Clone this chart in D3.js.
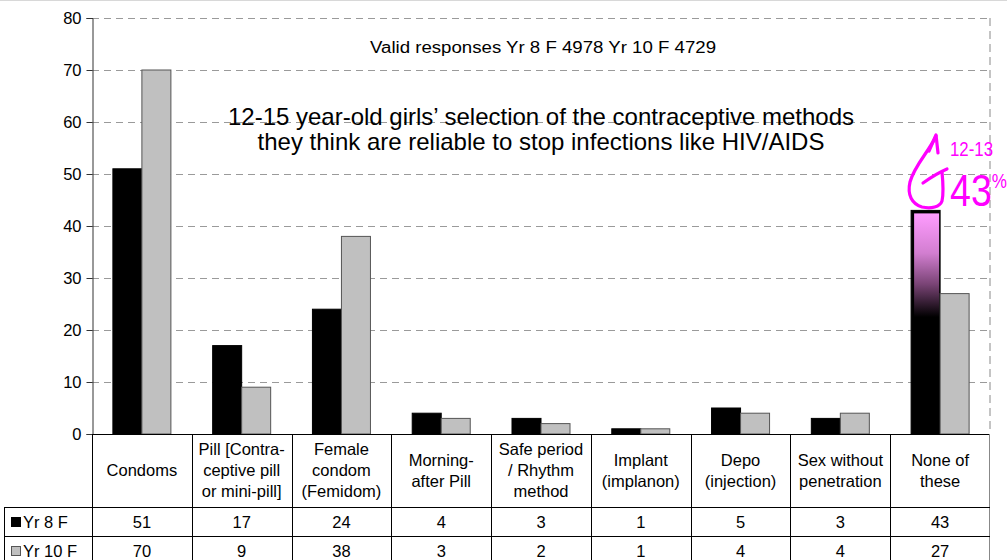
<!DOCTYPE html>
<html>
<head>
<meta charset="utf-8">
<script src="https://cdn.jsdelivr.net/npm/d3@7"></script>
<style>
  html, body { margin: 0; padding: 0; background: #fff; }
  svg { display: block; font-family: "Liberation Sans", Arial, sans-serif; }
</style>
</head>
<body>
<svg id="chart" width="1007" height="560"></svg>
<script>
// Method categories (each entry is the lines of its table header cell)
const categories = [
  ["Condoms"],
  ["Pill [Contra-", "ceptive pill", "or mini-pill]"],
  ["Female", "condom", "(Femidom)"],
  ["Morning-", "after Pill"],
  ["Safe period", "/ Rhythm", "method"],
  ["Implant", "(implanon)"],
  ["Depo", "(injection)"],
  ["Sex without", "penetration"],
  ["None of", "these"]
];
const seriesNames = ["Yr 8 F", "Yr 10 F"];
const yr8F  = [51, 17, 24, 4, 3, 1, 5, 3, 43];
const yr10F = [70, 9, 38, 3, 2, 1, 4, 4, 27];
const yTicks = [0, 10, 20, 30, 40, 50, 60, 70, 80];

const subtitle = "Valid responses  Yr 8 F 4978  Yr 10 F 4729";
const titleLines = [
  "12-15 year-old girls\u2019 selection of the contraceptive methods",
  "they think are reliable to stop infections like HIV/AIDS"
];

(function draw() {
  const svg = d3.select("#chart");
  const plotL = 92, plotR = 990, plotT = 18, plotB = 434;
  const tableLeft = 4;
  const headerBottom = 507, row1Bottom = 536, row2Bottom = 565;

  const catIdx = d3.range(categories.length);
  const x0 = d3.scaleBand().domain(catIdx).range([plotL, plotR]).padding(0);
  const x1 = d3.scaleBand().domain(seriesNames).range([0, x0.bandwidth()])
    .paddingInner(0).paddingOuter(0.72);
  const y = d3.scaleLinear().domain([0, 80]).range([plotB, plotT]);

  const colors = { "Yr 8 F": "#000000", "Yr 10 F": "#c0c0c0" };
  const seriesData = { "Yr 8 F": yr8F, "Yr 10 F": yr10F };

  // frame line along the top edge
  svg.append("line").attr("x1", 0).attr("x2", 1007).attr("y1", 0.5).attr("y2", 0.5)
    .attr("stroke", "#d8d8d8");

  // dashed gridlines
  svg.append("g").selectAll("line").data(yTicks.filter(t => t > 0)).join("line")
    .attr("x1", plotL).attr("x2", plotR)
    .attr("y1", d => Math.round(y(d)) + 0.5).attr("y2", d => Math.round(y(d)) + 0.5)
    .attr("stroke", "#9a9a9a").attr("stroke-dasharray", "7,5");

  // dashed right edge of the plot area
  svg.append("line").attr("x1", plotR).attr("x2", plotR).attr("y1", plotT).attr("y2", plotB)
    .attr("stroke", "#c4c4c4").attr("stroke-width", 2).attr("stroke-dasharray", "8,5");

  // y axis
  const yAxis = d3.axisLeft(y).tickValues(yTicks).tickSize(6).tickPadding(5);
  const gy = svg.append("g").attr("transform", `translate(${plotL + 0.5},0)`).call(yAxis);
  gy.select(".domain").attr("stroke", "#333");
  gy.selectAll(".tick line").attr("stroke", "#333");
  gy.selectAll(".tick text").attr("font-size", 16.5).attr("fill", "#000")
    .attr("font-family", "'Liberation Sans', Arial, sans-serif");

  // gradient used on the highlighted bar
  const defs = svg.append("defs");
  const grad = defs.append("linearGradient").attr("id", "hl")
    .attr("x1", 0).attr("x2", 0).attr("y1", 0).attr("y2", 1);
  grad.append("stop").attr("offset", "0%").attr("stop-color", "#ff9cff");
  grad.append("stop").attr("offset", "18%").attr("stop-color", "#d27ed0");
  grad.append("stop").attr("offset", "32%").attr("stop-color", "#7a4476");
  grad.append("stop").attr("offset", "47%").attr("stop-color", "#000000");
  grad.append("stop").attr("offset", "100%").attr("stop-color", "#000000");

  // bars
  const groups = svg.append("g").selectAll("g").data(catIdx).join("g")
    .attr("transform", i => `translate(${x0(i)},0)`);
  groups.selectAll("rect").data(i => seriesNames.map(s => ({ s, i, v: seriesData[s][i] })))
    .join("rect")
    .attr("x", d => x1(d.s))
    .attr("y", d => y(d.v))
    .attr("width", x1.bandwidth())
    .attr("height", d => y(0) - y(d.v))
    .attr("fill", d => colors[d.s])
    .attr("stroke", d => d.s === "Yr 8 F" ? "#000" : "#555")
    .attr("stroke-width", 1);

  // highlight on "None of these" Yr 8 F bar
  const hi = categories.length - 1;
  svg.append("rect")
    .attr("x", x0(hi) + x1("Yr 8 F") + 3)
    .attr("y", y(yr8F[hi]) + 3)
    .attr("width", x1.bandwidth() - 4)
    .attr("height", y(0) - y(yr8F[hi]) - 3)
    .attr("fill", "url(#hl)");

  // x axis baseline
  svg.append("line").attr("x1", plotL).attr("x2", plotR).attr("y1", plotB + 0.5).attr("y2", plotB + 0.5)
    .attr("stroke", "#000");

  // data table
  const tbl = svg.append("g").attr("stroke", "#000").attr("stroke-width", 1);
  x0.domain().forEach(i => {
    tbl.append("line").attr("x1", Math.round(x0(i)) + 0.5).attr("x2", Math.round(x0(i)) + 0.5)
      .attr("y1", plotB).attr("y2", 560);
  });
  tbl.append("line").attr("x1", plotR - 0.5).attr("x2", plotR - 0.5).attr("y1", plotB).attr("y2", 560)
    .attr("stroke", "#888");
  tbl.append("line").attr("x1", tableLeft + 0.5).attr("x2", tableLeft + 0.5)
    .attr("y1", headerBottom).attr("y2", 560);
  [headerBottom, row1Bottom].forEach(yy => {
    tbl.append("line").attr("x1", tableLeft).attr("x2", plotR).attr("y1", yy + 0.5).attr("y2", yy + 0.5);
  });

  const fontSize = 16.5, lineH = 21;
  const headerMid = (plotB + headerBottom) / 2;
  const hdr = svg.append("g").attr("font-size", fontSize).attr("text-anchor", "middle");
  categories.forEach((lines, i) => {
    const cx = x0(i) + x0.bandwidth() / 2;
    const y0 = headerMid - (lines.length - 1) * lineH / 2;
    lines.forEach((t, k) => {
      hdr.append("text").attr("x", cx).attr("y", y0 + k * lineH).attr("dy", "0.35em").text(t);
    });
  });

  const rowMids = [(headerBottom + row1Bottom) / 2, (row1Bottom + row2Bottom) / 2];
  seriesNames.forEach((s, r) => {
    const ym = rowMids[r] + 0.5;
    seriesData[s].forEach((v, i) => {
      svg.append("text").attr("x", x0(i) + x0.bandwidth() / 2).attr("y", ym).attr("dy", "0.35em")
        .attr("text-anchor", "middle").attr("font-size", fontSize).text(v);
    });
    svg.append("rect").attr("x", 11.5).attr("y", ym - 4.5).attr("width", 9).attr("height", 9)
      .attr("fill", colors[s]).attr("stroke", s === "Yr 8 F" ? "#000" : "#555");
    svg.append("text").attr("x", 23).attr("y", ym).attr("dy", "0.35em")
      .attr("font-size", fontSize).text(s);
  });

  // titles
  svg.append("text").attr("x", 543).attr("y", 47).attr("dy", "0.35em").attr("text-anchor", "middle")
    .attr("font-family", "'Liberation Sans Narrow', 'Liberation Sans', Arial, sans-serif")
    .attr("font-size", 16).attr("textLength", 346).attr("lengthAdjust", "spacingAndGlyphs")
    .text(subtitle);
  titleLines.forEach((t, k) => {
    svg.append("text").attr("x", 541).attr("y", 117 + k * 25).attr("dy", "0.35em")
      .attr("text-anchor", "middle").attr("font-size", 24).text(t);
  });

  // hand-drawn magenta note above the highlighted bar
  const pen = svg.append("g").attr("fill", "none").attr("stroke", "#ff00ff")
    .attr("stroke-width", 3.2).attr("stroke-linecap", "round").attr("stroke-linejoin", "round");
  pen.append("path").attr("d",
    "M936,136 C930,150 914,166 910,182 C907,195 912,204 922,207 C931,209 940,207 942,201 C944,192 943,182 942,172");
  pen.append("path").attr("d", "M923,183 C930,178 940,172 947,169");
  pen.append("path").attr("d", "M929,151 L936,135 L938,153");
  svg.append("text").attr("x", 950).attr("y", 156).attr("fill", "#ff00ff")
    .attr("font-family", "'Liberation Sans Narrow', 'Liberation Sans', sans-serif")
    .attr("font-size", 20).attr("textLength", 43).attr("lengthAdjust", "spacingAndGlyphs")
    .text("12-13");
  const pct = svg.append("text").attr("x", 950).attr("y", 206).attr("fill", "#ff00ff")
    .attr("textLength", 57).attr("lengthAdjust", "spacingAndGlyphs");
  pct.append("tspan").attr("font-size", 44).text("43");
  pct.append("tspan").attr("font-size", 20).attr("dy", -18).text("%");
})();
</script>
</body>
</html>
